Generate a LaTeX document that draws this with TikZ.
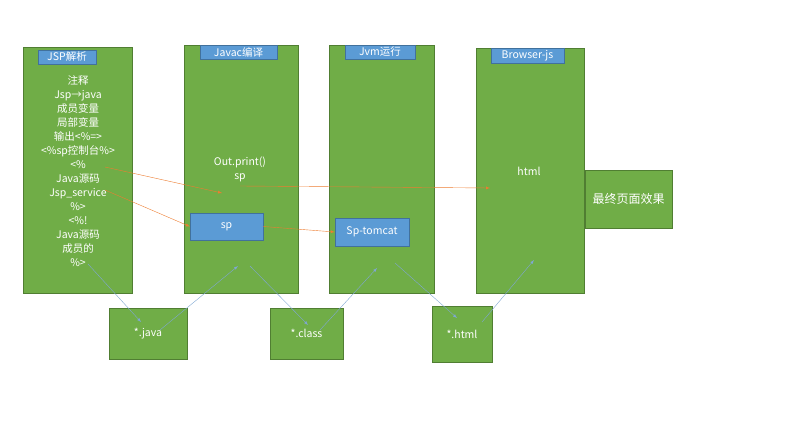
\documentclass[tikz,border=0pt]{standalone}
\usepackage{fontspec}
\setmainfont{Noto Sans CJK SC}
\usepackage{tikz}
\usetikzlibrary{arrows.meta,calc}
\definecolor{boxgreen}{HTML}{70AD47}
\definecolor{boxedge}{HTML}{507E32}
\definecolor{tagblue}{HTML}{5B9BD5}
\definecolor{tagedge}{HTML}{41719C}
\definecolor{flow}{HTML}{ED7D31}
\definecolor{linkblue}{HTML}{7FA7D3}
\tikzset{
  stage/.style={draw=boxedge,fill=boxgreen,text=white,inner sep=0pt},
  tag/.style={draw=tagedge,fill=tagblue,text=white,inner sep=0pt},
  txt/.style={text=white,inner sep=0pt,align=center},
  orangeline/.style={flow,thin,-latex},
  blueline/.style={linkblue,thin,-latex}
}
\begin{document}
\begin{tikzpicture}[x=1pt,y=-1pt,font=\fontsize{10.5}{14}\selectfont]
\useasboundingbox (0,0) rectangle (797,443);
% the four stages
\node[stage,minimum width=109,minimum height=246] (jsp) at (77.5,170) {};
\node[stage,minimum width=114,minimum height=248] (javac) at (241,169) {};
\node[stage,minimum width=105,minimum height=248] (jvm) at (381.5,169) {};
\node[stage,minimum width=108,minimum height=245] (browser) at (530,170.5) {};
\node[stage,minimum width=87,minimum height=58,font=\fontsize{12}{14}\selectfont] (result) at (628.5,199) {最终页面效果};
% titles
\node[tag,minimum width=58,minimum height=14] (jsptag) at (67,57) {JSP解析};
\node[tag,minimum width=77,minimum height=14] (javactag) at (238.5,52) {Javac编译};
\node[tag,minimum width=70,minimum height=14] (jvmtag) at (380,52) {Jvm运行};
\node[tag,minimum width=73,minimum height=15] (browsertag) at (527.5,55.5) {Browser-js};
% contents
\node[txt] (jspcode) at (78,171.5) {注释\\Jsp→java\\成员变量\\局部变量\\输出<\%=>\\<\%sp控制台\%>\\<\%\\Java源码\\Jsp\_service\\\%>\\<\%!\\Java源码\\成员的\\\%>};
\node[txt] (outprint) at (240,169) {Out.print()\\sp};
\node[tag,minimum width=73,minimum height=27] (sp) at (226.5,226.5) {sp};
\node[tag,minimum width=74,minimum height=28] (tomcat) at (372,232) {Sp-tomcat};
\node[txt] (html) at (529,171) {html};
% files
\node[stage,minimum width=78,minimum height=51] (javafile) at (148,333.5) {*.java};
\node[stage,minimum width=73,minimum height=51] (classfile) at (306.5,333.5) {*.class};
\node[stage,minimum width=60,minimum height=56] (htmlfile) at (462,334) {*.html};
% connector ends
\coordinate (scriptlet) at (105,167);
\coordinate (service) at (105,190);
\coordinate (spin) at (222,193);
\coordinate (spout) at (240,186);
\coordinate (htmlin) at (490,188);
\coordinate (jspend) at (88,264);
\coordinate (javain) at (141,322);
\coordinate (javaout) at (160,330);
\coordinate (javacin) at (238,266);
\coordinate (javacout) at (250,266);
\coordinate (classin) at (308,325);
\coordinate (classout) at (320,330);
\coordinate (jvmin) at (377,268);
\coordinate (jvmout) at (395,263);
\coordinate (htmlfin) at (457,318);
\coordinate (htmlfout) at (482,322);
\coordinate (browserin) at (534,260);
% flow of the source
\draw[orangeline] (scriptlet) -- (spin);
\draw[orangeline] (service) -- (sp.west);
\draw[orangeline] (spout) -- (htmlin);
\draw[orangeline] (sp.east) -- (tomcat.west);
% files in between
\draw[blueline] (jspend) -- (javain);
\draw[blueline] (javaout) -- (javacin);
\draw[blueline] (javacout) -- (classin);
\draw[blueline] (classout) -- (jvmin);
\draw[blueline] (jvmout) -- (htmlfin);
\draw[blueline] (htmlfout) -- (browserin);
\end{tikzpicture}
\end{document}
